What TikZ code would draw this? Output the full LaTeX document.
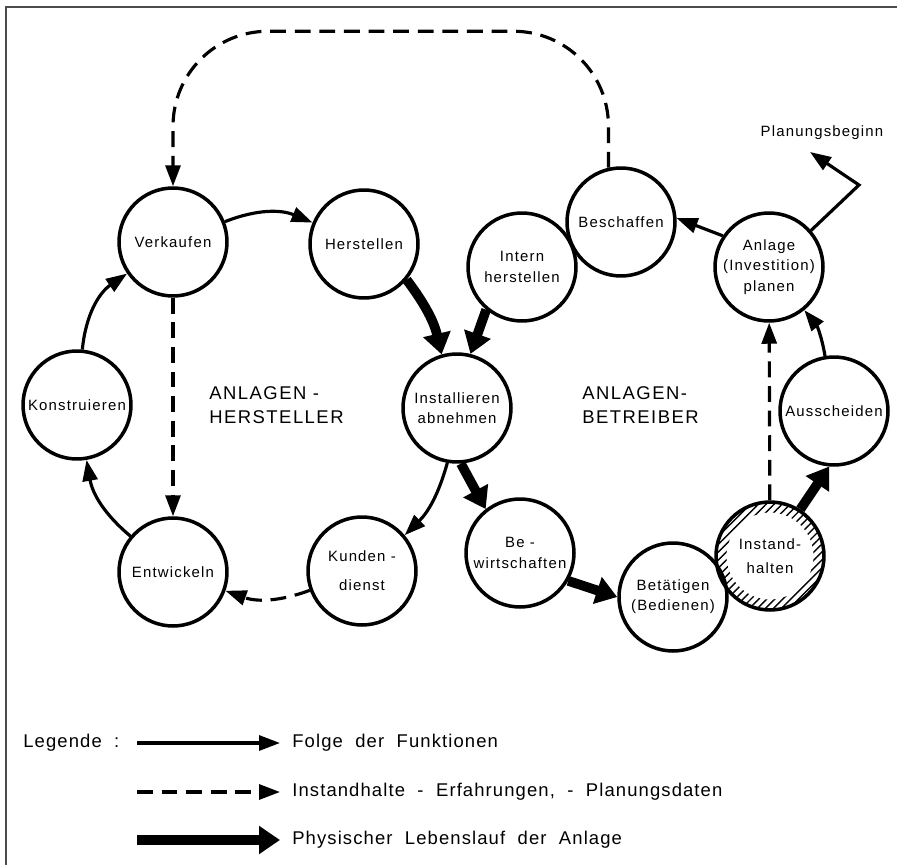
\documentclass[tikz,border=0pt]{standalone}
\usepackage{fontspec}
\setmainfont{Liberation Sans}
\newfontfamily\zeichenfont{Liberation Sans}[LetterSpace=8]
\newfontfamily\legendenfont{Liberation Sans}[LetterSpace=6, WordSpace=2]
\usetikzlibrary{arrows.meta,patterns.meta,calc}
\tikzset{
  fkt_n/.style = {circle, draw=black, line width=2pt, minimum size=2.16cm, inner sep=0pt, align=center, font=\zeichenfont\fontsize{8.5}{11.5}\selectfont},
  fkt_t/.style = {inner sep=1pt, font=\zeichenfont\fontsize{8.5}{11.5}\selectfont},
  bereich/.style = {anchor=west, align=left, inner sep=0pt, font=\zeichenfont\fontsize{10.5}{14}\selectfont},
  legende/.style = {anchor=west, inner sep=0pt, font=\legendenfont\fontsize{10.5}{13}\selectfont},
  folge/.style = {line width=1.8pt, -{Triangle[length=4.2mm,width=3mm]}},
  daten/.style = {folge, dash pattern=on 9pt off 5pt},
  physisch/.style = {line width=5.5pt, -{Triangle[length=4.2mm,width=5.4mm]}},
  schraffur/.style = {pattern={Lines[angle=45,distance=3.2pt,line width=0.8pt]}, even odd rule}
}

\begin{document}
\begin{tikzpicture}[x=0.02cm, y=-0.02cm]
	\useasboundingbox (0,0) rectangle (897,865);
	\draw [black!70, line width=1pt] (6,865) -- (6,7) -- (897,7);

	\node [fkt_n] (verkaufen) at (173,242) {Verkaufen};
	\node [fkt_n] (herstellen) at (364,244) {Herstellen};
	\node [fkt_n] (konstruieren) at (77,405) {Konstruieren};
	\node [fkt_n] (installieren) at (457,408) {Installieren\\abnehmen};
	\node [fkt_n] (kunden) at (362,571) {Kunden -\\[5pt]dienst};
	\node [fkt_n] (entwickeln) at (173,572) {Entwickeln};
	\node [fkt_n] (bewirt) at (520,553) {Be -\\wirtschaften};
	\node [fkt_n] (betaetigen) at (673,597) {Betätigen\\(Bedienen)};
	\node [fkt_n] (instand) at (770,556) {Instand-\\[2pt]halten};
	\node [fkt_n] (ausscheiden) at (834,411) {Ausscheiden};
	\node [fkt_n] (anlage) at (769,267) {Anlage\\(Investition)\\planen};
	\node [fkt_n] (beschaffen) at (621,222) {Beschaffen};
	\node [fkt_n] (intern) at (522,267) {Intern\\herstellen};
	\fill [schraffur] (instand.center) circle (1.06cm) circle (0.87cm);

	\node [bereich] (hersteller) at (209,405) {ANLAGEN -\\HERSTELLER};
	\node [bereich] (betreiber) at (582,405) {ANLAGEN-\\BETREIBER};
	\node [fkt_t] (planung) at (822,133) {Planungsbeginn};

	\draw [folge] (verkaufen) to [bend left=22] (herstellen);
	\draw [folge] (konstruieren) to [bend left=25] (verkaufen);
	\draw [folge] (entwickeln) to [bend left=20] (konstruieren);
	\draw [folge] (installieren.260) to [bend left=15] (kunden.40);
	\draw [daten] (kunden) to [bend left=20] (entwickeln);
	\draw [daten] (verkaufen) -- (entwickeln);
	\draw [physisch] (herstellen.-40) to [bend left=12] (installieren.106);
	\draw [physisch] (intern.230) -- (installieren.76);
	\draw [physisch] (installieren.274) -- (bewirt.128);
	\draw [physisch] (bewirt.-30) -- (betaetigen.180);
	\draw [physisch] (instand.57) -- (ausscheiden.265);
	\draw [daten] (instand) -- (anlage);
	\draw [folge] (ausscheiden) to [bend right=15] (anlage);
	\draw [folge] (anlage.146) -- (beschaffen.4);
	\coordinate (knick) at (859,185);
	\coordinate (beginn) at (810,152);
	\draw [folge] (anlage.41) -- (knick) -- (beginn);
	\draw [daten, rounded corners=1.9cm] (beschaffen.103) |- ($(verkaufen.north)+(0,-155)$) -- (verkaufen.north);

	\node [legende] (legende) at (23,743) {Legende :};
	\node [legende] (folgetext) at (292,743) {Folge der Funktionen};
	\node [legende] (datentext) at (292,792) {Instandhalte - Erfahrungen, - Planungsdaten};
	\node [legende] (physischtext) at (292,840) {Physischer Lebenslauf der Anlage};
	\coordinate (l1) at (137,743);
	\coordinate (l2) at (137,792);
	\coordinate (l3) at (137,840);
	\draw [folge, shorten >=0.24cm] (l1) -- (folgetext.west);
	\draw [daten, shorten >=0.24cm] (l2) -- (datentext.west);
	\draw [physisch, shorten >=0.24cm] (l3) -- (physischtext.west);
\end{tikzpicture}
\end{document}
